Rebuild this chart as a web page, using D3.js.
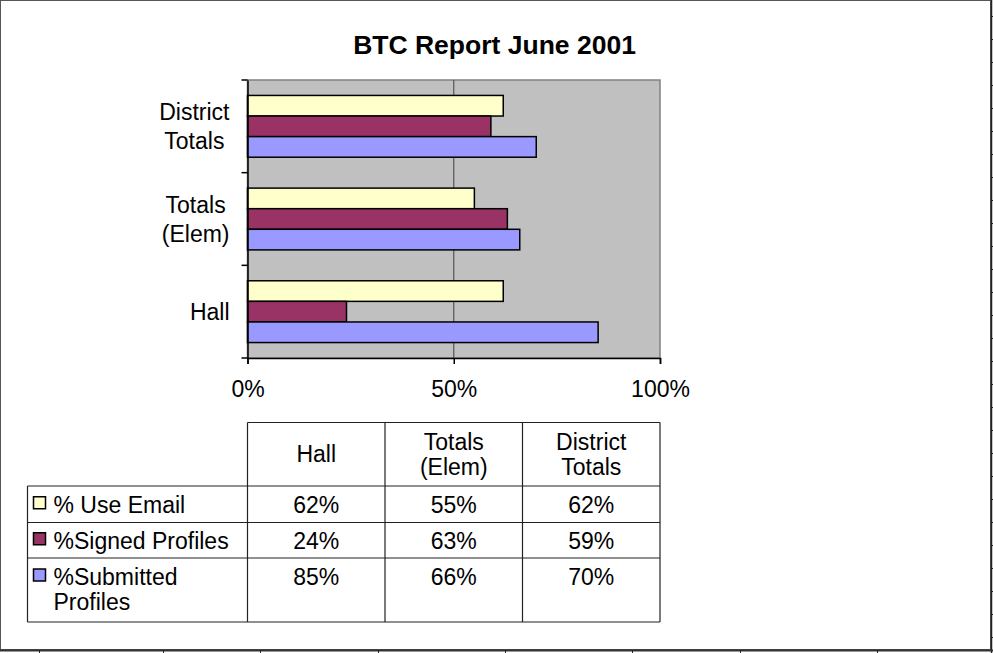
<!DOCTYPE html>
<html>
<head>
<meta charset="utf-8">
<script src="https://cdn.jsdelivr.net/npm/d3@7"></script>
<style>
  html, body { margin: 0; padding: 0; background: #fff; }
  svg { display: block; font-family: "Liberation Sans", Arial, sans-serif; }
</style>
</head>
<body>
<svg id="chart" width="993" height="653"></svg>
<script>
// categories bottom -> top as in the sheet
var categories = ["Hall", "Totals (Elem)", "District Totals"];
var categoryLines = [["Hall"], ["Totals", "(Elem)"], ["District", "Totals"]];
var seriesNames = ["% Use Email", "%Signed Profiles", "%Submitted Profiles"];
var seriesLines = [["% Use Email"], ["%Signed Profiles"], ["%Submitted", "Profiles"]];
var useEmail = [0.62, 0.55, 0.62];
var signedProfiles = [0.24, 0.63, 0.59];
var submittedProfiles = [0.85, 0.66, 0.70];
var xTicks = [0, 0.5, 1];

var seriesColors = ["#FFFFCC", "#993366", "#9999FF"];
var seriesValues = [useEmail, signedProfiles, submittedProfiles];

var svg = d3.select("#chart");

var plot = { left: 247.5, right: 660, top: 80, bottom: 358 };

var x = d3.scaleLinear().domain([0, 1]).range([plot.left, plot.right]);
var y = d3.scaleBand()
  .domain(categories.slice().reverse())
  .range([plot.top, plot.bottom]);
var yInner = d3.scaleBand()
  .domain(seriesNames)
  .range([0, y.bandwidth()])
  .paddingOuter(0.75);

// frame + sheet grid leftovers
svg.append("rect")
  .attr("x", 0.5).attr("y", 0.5)
  .attr("width", 990).attr("height", 649)
  .attr("fill", "#fff").attr("stroke", "#555");

svg.append("line")
  .attr("x1", 991.5).attr("x2", 991.5).attr("y1", 0).attr("y2", 653)
  .attr("stroke", "#222").attr("stroke-width", 1.5);
svg.append("line")
  .attr("x1", 0).attr("x2", 993).attr("y1", 650.5).attr("y2", 650.5)
  .attr("stroke", "#333").attr("stroke-width", 2);
svg.append("g").selectAll("line")
  .data(d3.range(16, 653, 23))
  .enter().append("line")
    .attr("x1", 991).attr("x2", 993)
    .attr("y1", function(d) { return d + 0.5; })
    .attr("y2", function(d) { return d + 0.5; })
    .attr("stroke", "#222");
svg.append("g").selectAll("line")
  .data([39, 163, 260, 378, 505, 632, 740, 877])
  .enter().append("line")
    .attr("x1", function(d) { return d + 0.5; })
    .attr("x2", function(d) { return d + 0.5; })
    .attr("y1", 650).attr("y2", 653)
    .attr("stroke", "#222");

// title
svg.append("text")
  .attr("x", 494.5).attr("y", 53.5)
  .attr("text-anchor", "middle")
  .attr("font-size", 26.5).attr("font-weight", "bold")
  .text("BTC Report June 2001");

// plot area
svg.append("rect")
  .attr("x", plot.left).attr("y", plot.top)
  .attr("width", plot.right - plot.left).attr("height", plot.bottom - plot.top)
  .attr("fill", "#C0C0C0").attr("stroke", "#808080").attr("stroke-width", 1.5);

svg.append("g").selectAll("line")
  .data(xTicks.slice(1, -1))
  .enter().append("line")
    .attr("x1", function(d) { return x(d); })
    .attr("x2", function(d) { return x(d); })
    .attr("y1", plot.top).attr("y2", plot.bottom)
    .attr("stroke", "#555").attr("stroke-width", 1.2);

// bars
var groups = svg.append("g").selectAll("g")
  .data(categories)
  .enter().append("g")
    .attr("transform", function(d) { return "translate(0," + y(d) + ")"; });

groups.selectAll("rect")
  .data(function(d, i) {
    return seriesNames.map(function(s, j) {
      return { series: s, value: seriesValues[j][i], color: seriesColors[j] };
    });
  })
  .enter().append("rect")
    .attr("x", x(0))
    .attr("y", function(d) { return yInner(d.series); })
    .attr("width", function(d) { return x(d.value) - x(0); })
    .attr("height", yInner.bandwidth())
    .attr("fill", function(d) { return d.color; })
    .attr("stroke", "#000").attr("stroke-width", 1.5);

// axes
var xAxis = d3.axisBottom(x)
  .tickValues(xTicks)
  .tickFormat(d3.format(".0%"))
  .tickSize(6).tickPadding(17);
var gx = svg.append("g")
  .attr("transform", "translate(0," + plot.bottom + ")")
  .call(xAxis);
gx.select(".domain").attr("stroke", "#000").attr("stroke-width", 1.5);
gx.selectAll(".tick line").attr("stroke", "#000").attr("stroke-width", 1.5);
gx.selectAll(".tick text")
  .attr("font-family", "Liberation Sans, Arial, sans-serif")
  .attr("font-size", 23).attr("fill", "#000");

var yAxis = d3.axisLeft(y).tickSize(0).tickFormat("");
var gy = svg.append("g")
  .attr("transform", "translate(" + plot.left + ",0)")
  .call(yAxis);
gy.select(".domain").attr("stroke", "#000").attr("stroke-width", 1.5);
gy.selectAll(".tick").remove();

// category boundary ticks
svg.append("g").selectAll("line")
  .data(categories.concat([null]))
  .enter().append("line")
    .attr("x1", plot.left - 6).attr("x2", plot.left)
    .attr("y1", function(d, i) { return plot.top + i * y.step(); })
    .attr("y2", function(d, i) { return plot.top + i * y.step(); })
    .attr("stroke", "#000").attr("stroke-width", 1.5);

// category labels: block right-aligned, lines centred inside the block
var lineH = 29;
var labelRight = 229.5;
svg.append("g").selectAll("text")
  .data(categories)
  .enter().append("text")
    .attr("text-anchor", "middle")
    .attr("font-size", 23)
    .each(function(d, i) {
      var lines = categoryLines[i];
      var cy = y(d) + y.bandwidth() / 2;
      var t = d3.select(this);
      var spans = lines.map(function(l, k) {
        return t.append("tspan")
          .attr("y", cy - (lines.length - 1) * lineH / 2 + k * lineH + 8)
          .text(l);
      });
      var w = d3.max(spans, function(s) { return s.node().getComputedTextLength(); });
      spans.forEach(function(s) { s.attr("x", labelRight - w / 2); });
    });

// data table
var tbl = { left: 27.5, top: 422.5, header: 486, rows: [486, 522.5, 558, 622] };
var colEdges = d3.range(categories.length + 1).map(function(i) { return x(i / categories.length); });
var colCenters = categories.map(function(c, i) { return (colEdges[i] + colEdges[i + 1]) / 2; });

var tg = svg.append("g").attr("stroke", "#222").attr("stroke-width", 1.2);
tg.append("line")
  .attr("x1", plot.left).attr("x2", plot.right)
  .attr("y1", tbl.top).attr("y2", tbl.top);
tbl.rows.forEach(function(r) {
  tg.append("line")
    .attr("x1", tbl.left).attr("x2", plot.right)
    .attr("y1", r).attr("y2", r);
});
tg.append("line")
  .attr("x1", tbl.left).attr("x2", tbl.left)
  .attr("y1", tbl.header).attr("y2", tbl.rows[3]);
colEdges.forEach(function(cx) {
  tg.append("line")
    .attr("x1", cx).attr("x2", cx)
    .attr("y1", tbl.top).attr("y2", tbl.rows[3]);
});

// header text
var tLine = 25;
categories.forEach(function(c, i) {
  var lines = categoryLines[i];
  var cy = (tbl.top + tbl.header) / 2;
  var t = svg.append("text").attr("text-anchor", "middle").attr("font-size", 23);
  lines.forEach(function(l, k) {
    t.append("tspan")
      .attr("x", colCenters[i])
      .attr("y", cy - (lines.length - 1) * tLine / 2 + k * tLine + 8)
      .text(l);
  });
});

// rows
var fmt = d3.format(".0%");
seriesNames.forEach(function(s, j) {
  var top = tbl.rows[j];
  var firstBase = j < 2 ? (top + tbl.rows[j + 1]) / 2 + 8.5 : top + 27;
  svg.append("rect")
    .attr("x", 33.5).attr("y", firstBase - 16)
    .attr("width", 12).attr("height", 12)
    .attr("fill", seriesColors[j]).attr("stroke", "#000").attr("stroke-width", 1.5);
  var t = svg.append("text").attr("font-size", 23);
  seriesLines[j].forEach(function(l, k) {
    t.append("tspan").attr("x", 53.5).attr("y", firstBase + k * tLine).text(l);
  });
  categories.forEach(function(c, i) {
    svg.append("text")
      .attr("x", colCenters[i]).attr("y", firstBase)
      .attr("text-anchor", "middle").attr("font-size", 23)
      .text(fmt(seriesValues[j][i]));
  });
});
</script>
</body>
</html>
